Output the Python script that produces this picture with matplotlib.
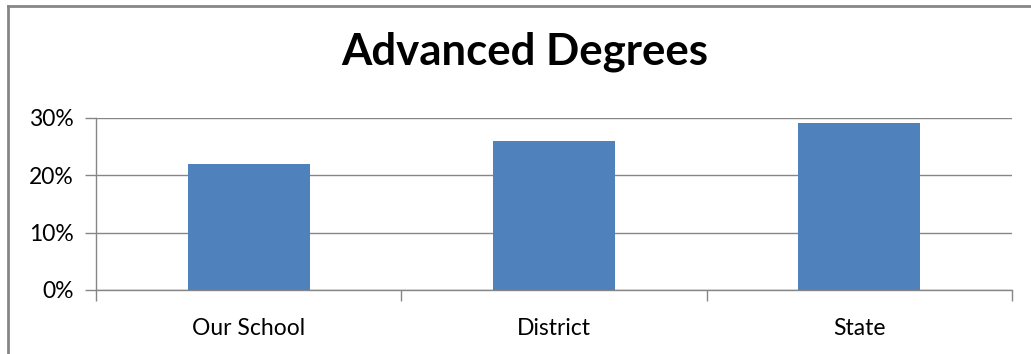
import matplotlib.pyplot as plt
import matplotlib.ticker as mticker
from matplotlib.lines import Line2D

categories = ["Our School", "District", "State"]
values = [0.22, 0.26, 0.29]
yticks = [0, 0.10, 0.20, 0.30]

W, H = 1031, 354
fig = plt.figure(figsize=(W / 100, H / 100), dpi=100)
plt.rcParams['font.family'] = ['Lato', 'DejaVu Sans']

ax = fig.add_axes([96 / W, 1 - 290 / H, (1012 - 96) / W, (290 - 117.5) / H])
x = range(len(categories))
ax.bar(x, values, width=0.4, color="#4F81BD", zorder=3)

grey = "#868686"
ax.set_xlim(-0.5, len(categories) - 0.5)
ax.set_ylim(0, 0.30)
ax.set_yticks(yticks)
ax.yaxis.set_major_formatter(mticker.PercentFormatter(1.0, decimals=0))
ax.grid(axis="y", color=grey, linewidth=1, zorder=0)
ax.set_xticks(list(x))
ax.set_xticklabels(categories)
ax.set_xticks([i - 0.5 for i in range(len(categories) + 1)], minor=True)
ax.tick_params(axis="x", which="major", length=0, pad=20, labelsize=16.5)
ax.tick_params(axis="x", which="minor", length=8, color=grey, width=1)
ax.tick_params(axis="y", length=8, color=grey, width=1, pad=8, labelsize=16.5)
for s in ["top", "right"]:
    ax.spines[s].set_visible(False)
for s in ["left", "bottom"]:
    ax.spines[s].set_color(grey)
    ax.spines[s].set_linewidth(1)

fig.text(525 / W, 1 - 52 / H, "Advanced Degrees", ha="center", va="center",
         fontsize=31.5, fontweight="bold")

# chart border (left and top edges visible)
fig.add_artist(Line2D([7.5 / W, 7.5 / W], [0, 1 - 5.5 / H], color=grey, lw=2,
                      transform=fig.transFigure))
fig.add_artist(Line2D([7.5 / W, 1030.5 / W], [1 - 5.5 / H, 1 - 5.5 / H], color=grey, lw=2,
                      transform=fig.transFigure))

fig.savefig("out.png", dpi=100)
